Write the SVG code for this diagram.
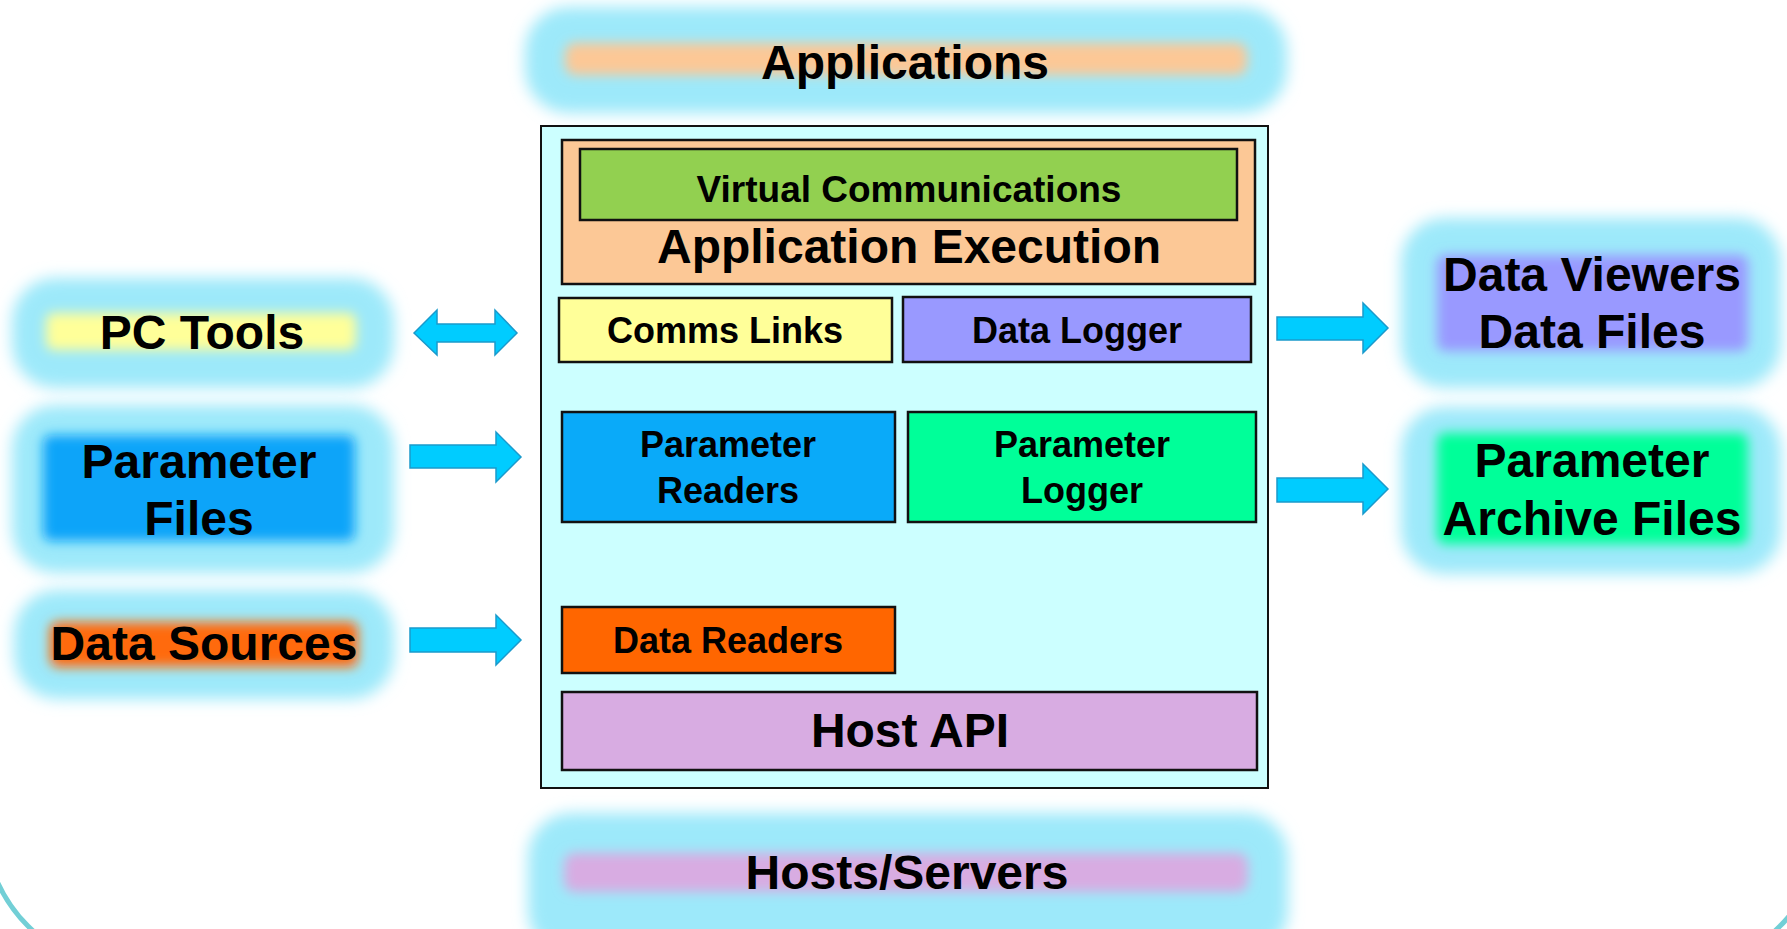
<svg xmlns="http://www.w3.org/2000/svg" width="1787" height="929" viewBox="0 0 1787 929">
<style>
text{font-family:"Liberation Sans",Arial,sans-serif;font-weight:bold;fill:#000;text-anchor:middle}
.big{font-size:48px}
.mid{font-size:37px}
.sm{font-size:36px}
.glow{fill:#9de9fa}
.box{stroke:#111;stroke-width:2.5}
.arrow{fill:#00ccff;stroke:#1a9acc;stroke-width:1.5;stroke-linejoin:miter}
</style>
<defs>
<filter id="blurA" x="-20%" y="-40%" width="140%" height="180%"><feGaussianBlur stdDeviation="7.5"/></filter>
<filter id="blurB" x="-20%" y="-60%" width="140%" height="220%"><feGaussianBlur stdDeviation="6"/></filter>
</defs>
<rect width="1787" height="929" fill="#fff"/>
<rect x="-16" y="-300" width="1840" height="1270" rx="150" fill="none" stroke="#72cfd6" stroke-width="5"/>

<g id="applications">
<rect class="glow" x="525" y="7" width="762" height="106" rx="44" filter="url(#blurA)"/>
<rect x="565" y="43" width="682" height="32" rx="10" fill="#fcc896" filter="url(#blurB)"/>
<text class="big" x="905" y="79">Applications</text>
</g>

<g id="main-box">
<rect x="541" y="126" width="727" height="662" fill="#ccffff" stroke="#111" stroke-width="2"/>
</g>

<g id="application-execution">
<rect class="box" x="562" y="140" width="693" height="144" fill="#fcc896"/>
<text class="big" x="909" y="263">Application Execution</text>
</g>
<g id="virtual-communications">
<rect class="box" x="580" y="149" width="657" height="71" fill="#92d050"/>
<text class="mid" x="909" y="202">Virtual Communications</text>
</g>
<g id="comms-links">
<rect class="box" x="559" y="298" width="333" height="64" fill="#ffff99"/>
<text class="sm" x="725" y="343">Comms Links</text>
</g>
<g id="data-logger">
<rect class="box" x="903" y="297" width="348" height="65" fill="#9999ff"/>
<text class="sm" x="1077" y="343">Data Logger</text>
</g>
<g id="parameter-readers">
<rect class="box" x="562" y="412" width="333" height="110" fill="#0aaaf9"/>
<text class="sm" x="728" y="457">Parameter</text>
<text class="sm" x="728" y="503">Readers</text>
</g>
<g id="parameter-logger">
<rect class="box" x="908" y="412" width="348" height="110" fill="#00ff99"/>
<text class="sm" x="1082" y="457">Parameter</text>
<text class="sm" x="1082" y="503">Logger</text>
</g>
<g id="data-readers">
<rect class="box" x="562" y="607" width="333" height="66" fill="#ff6600"/>
<text class="sm" x="728" y="653">Data Readers</text>
</g>
<g id="host-api">
<rect class="box" x="562" y="692" width="695" height="78" fill="#d8ace2"/>
<text class="big" x="910" y="747">Host API</text>
</g>

<g id="pc-tools">
<rect class="glow" x="12" y="278" width="382" height="110" rx="44" filter="url(#blurA)"/>
<rect x="46" y="313" width="310" height="37" rx="8" fill="#ffff99" filter="url(#blurB)"/>
<text class="big" x="202" y="349">PC Tools</text>
</g>
<g id="parameter-files">
<rect class="glow" x="12" y="405" width="382" height="168" rx="44" filter="url(#blurA)"/>
<rect x="43" y="435" width="312" height="106" rx="8" fill="#0aa4f9" filter="url(#blurB)"/>
<text class="big" x="199" y="478">Parameter</text>
<text class="big" x="199" y="535">Files</text>
</g>
<g id="data-sources">
<rect class="glow" x="14" y="590" width="380" height="109" rx="44" filter="url(#blurA)"/>
<rect x="50" y="622" width="308" height="45" rx="8" fill="#ff6a10" filter="url(#blurB)"/>
<text class="big" x="204" y="660">Data Sources</text>
</g>

<g id="data-viewers">
<rect class="glow" x="1401" y="218" width="380" height="170" rx="44" filter="url(#blurA)"/>
<rect x="1437" y="255" width="311" height="96" rx="8" fill="#9999ff" filter="url(#blurB)"/>
<text class="big" x="1592" y="291">Data Viewers</text>
<text class="big" x="1592" y="348">Data Files</text>
</g>
<g id="parameter-archive-files">
<rect class="glow" x="1401" y="407" width="380" height="167" rx="44" filter="url(#blurA)"/>
<rect x="1437" y="433" width="311" height="111" rx="8" fill="#00ff99" filter="url(#blurB)"/>
<text class="big" x="1592" y="477">Parameter</text>
<text class="big" x="1592" y="535">Archive Files</text>
</g>

<g id="hosts-servers">
<rect class="glow" x="528" y="813" width="760" height="142" rx="44" filter="url(#blurA)"/>
<rect x="564" y="853" width="684" height="39" rx="10" fill="#d8ace2" filter="url(#blurB)"/>
<text class="big" x="907" y="889">Hosts/Servers</text>
</g>

<g id="connectors">
<polygon class="arrow" points="414,333 437,310 437,324 495,324 495,310 517,333 495,355 495,342 437,342 437,355"/>
<polygon class="arrow" points="410,445 496,445 496,432 521,457 496,482 496,468 410,468"/>
<polygon class="arrow" points="410,628 496,628 496,615 521,640 496,665 496,652 410,652"/>
<polygon class="arrow" points="1277,317 1363,317 1363,303 1388,328 1363,353 1363,340 1277,340"/>
<polygon class="arrow" points="1277,478 1363,478 1363,464 1388,489 1363,514 1363,502 1277,502"/>
</g>
</svg>
